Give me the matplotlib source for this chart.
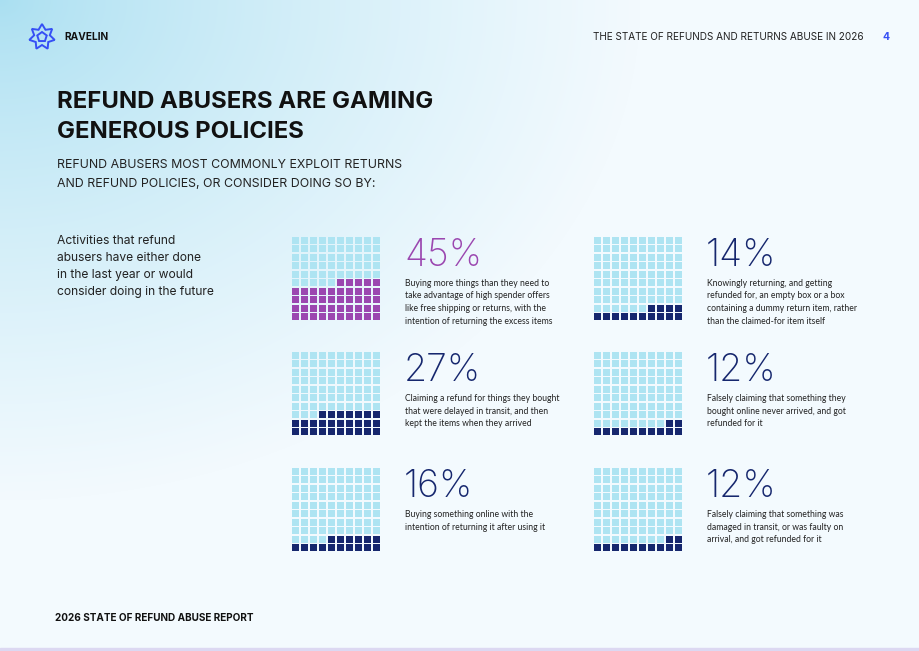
import numpy as np
import matplotlib
matplotlib.use("Agg")
import matplotlib.pyplot as plt
from matplotlib.patches import Rectangle, Polygon

# ---------------- data ----------------
percentages = [45, 14, 27, 12, 16, 12]
descriptions = [
    "Buying more things than they need to\ntake advantage of high spender offers\nlike free shipping or returns, with the\nintention of returning the excess items",
    "Knowingly returning, and getting\nrefunded for, an empty box or a box\ncontaining a dummy return item, rather\nthan the claimed-for item itself",
    "Claiming a refund for things they bought\nthat were delayed in transit, and then\nkept the items when they arrived",
    "Falsely claiming that something they\nbought online never arrived, and got\nrefunded for it",
    "Buying something online with the\nintention of returning it after using it",
    "Falsely claiming that something was\ndamaged in transit, or was faulty on\narrival, and got refunded for it",
]
highlight_colors = ["#9b47b0", "#16276e", "#16276e", "#16276e", "#16276e", "#16276e"]

title_lines = ["REFUND ABUSERS ARE GAMING", "GENEROUS POLICIES"]
subtitle_lines = ["REFUND ABUSERS MOST COMMONLY EXPLOIT RETURNS",
                  "AND REFUND POLICIES, OR CONSIDER DOING SO BY:"]
side_note = "Activities that refund\nabusers have either done\nin the last year or would\nconsider doing in the future"
header_brand = "RAVELIN"
header_title = "THE STATE OF REFUNDS AND RETURNS ABUSE IN 2026"
page_number = "4"
footer = "2026 STATE OF REFUND ABUSE REPORT"

EMPTY_COLOR = "#aee4f2"
FONT = "Inter"

W, H = 920, 651
fig = plt.figure(figsize=(W / 100, H / 100), dpi=100)

# background gradient
bg = fig.add_axes([0, 0, 1, 1])
yy, xx = np.mgrid[0:H, 0:W]
t = np.clip(np.sqrt((xx / 640.0) ** 2 + (yy / 500.0) ** 2), 0, 1) ** 0.75
c0 = np.array([0xa9, 0xdf, 0xf1]) / 255
c1 = np.array([0xf3, 0xfa, 0xfe]) / 255
img = c0[None, None, :] * (1 - t[..., None]) + c1[None, None, :] * t[..., None]
bg.imshow(img, extent=[0, W, H, 0], aspect="auto", zorder=0)
bg.set_xlim(0, W)
bg.set_ylim(H, 0)
bg.axis("off")
bg.add_patch(Rectangle((0, 648), W, 3, color="#dcd8f2", zorder=1))


def txt(x, y, s, size, weight="normal", color="#111111", ha="left", va="center", ls=1.2, family=FONT):
    return bg.text(x, y, s, fontsize=size, fontweight=weight, color=color, ha=ha, va=va,
                   family=family, linespacing=ls, zorder=3)


# logo
cx, cy = 42, 37
ang = np.linspace(-np.pi / 2, 3 * np.pi / 2, 15)[:-1]
rad = np.where(np.arange(14) % 2 == 0, 13, 8)
star = np.c_[cx + rad * np.cos(ang), cy + rad * np.sin(ang)]
bg.add_patch(Polygon(star, closed=True, fill=False, ec="#3650f5", lw=1.4, zorder=3))
ang5 = np.linspace(-np.pi / 2, 3 * np.pi / 2, 6)[:-1]
pent = np.c_[cx + 5 * np.cos(ang5), cy + 5 * np.sin(ang5)]
bg.add_patch(Polygon(pent, closed=True, fill=False, ec="#3650f5", lw=1.4, zorder=3))

txt(64, 37, header_brand, 7.3, "bold")
txt(864, 37, header_title, 7.2, ha="right", color="#222222")
txt(886, 37, page_number, 7.5, "bold", color="#3650f5", ha="center")

txt(57, 102, title_lines[0], 17.2, "bold")
txt(57, 132, title_lines[1], 17.2, "bold")
txt(57, 165, subtitle_lines[0], 8.9, color="#222222")
txt(57, 184, subtitle_lines[1], 8.9, color="#222222")
txt(57, 235, side_note, 8.7, color="#222222", va="top", ls=1.55)
txt(55, 618, footer, 7.2, "bold")

# waffles
col_x = [291, 593]
row_y = [236, 351, 467]
gw, gh = 90, 85
for k, pct in enumerate(percentages):
    r, c = divmod(k, 2)
    x0, y0 = col_x[c], row_y[r]
    ax = fig.add_axes([x0 / W, 1 - (y0 + gh) / H, gw / W, gh / H])
    ax.set_xlim(0, 10)
    ax.set_ylim(0, 10)
    ax.axis("off")
    for i in range(100):
        row = i // 10
        col = 9 - i % 10
        color = highlight_colors[k] if i < pct else EMPTY_COLOR
        ax.add_patch(Rectangle((col + 0.08, row + 0.09), 0.84, 0.82, color=color, lw=0))
    tx = x0 + 114
    txt(tx - 1, y0 + 20, f"{pct}%", 27, "light", color=highlight_colors[k])
    txt(tx, y0 + 43, descriptions[k], 6.2, color="#222222", va="top", ls=1.5, family="Lato")

fig.savefig("out.png", dpi=100)
